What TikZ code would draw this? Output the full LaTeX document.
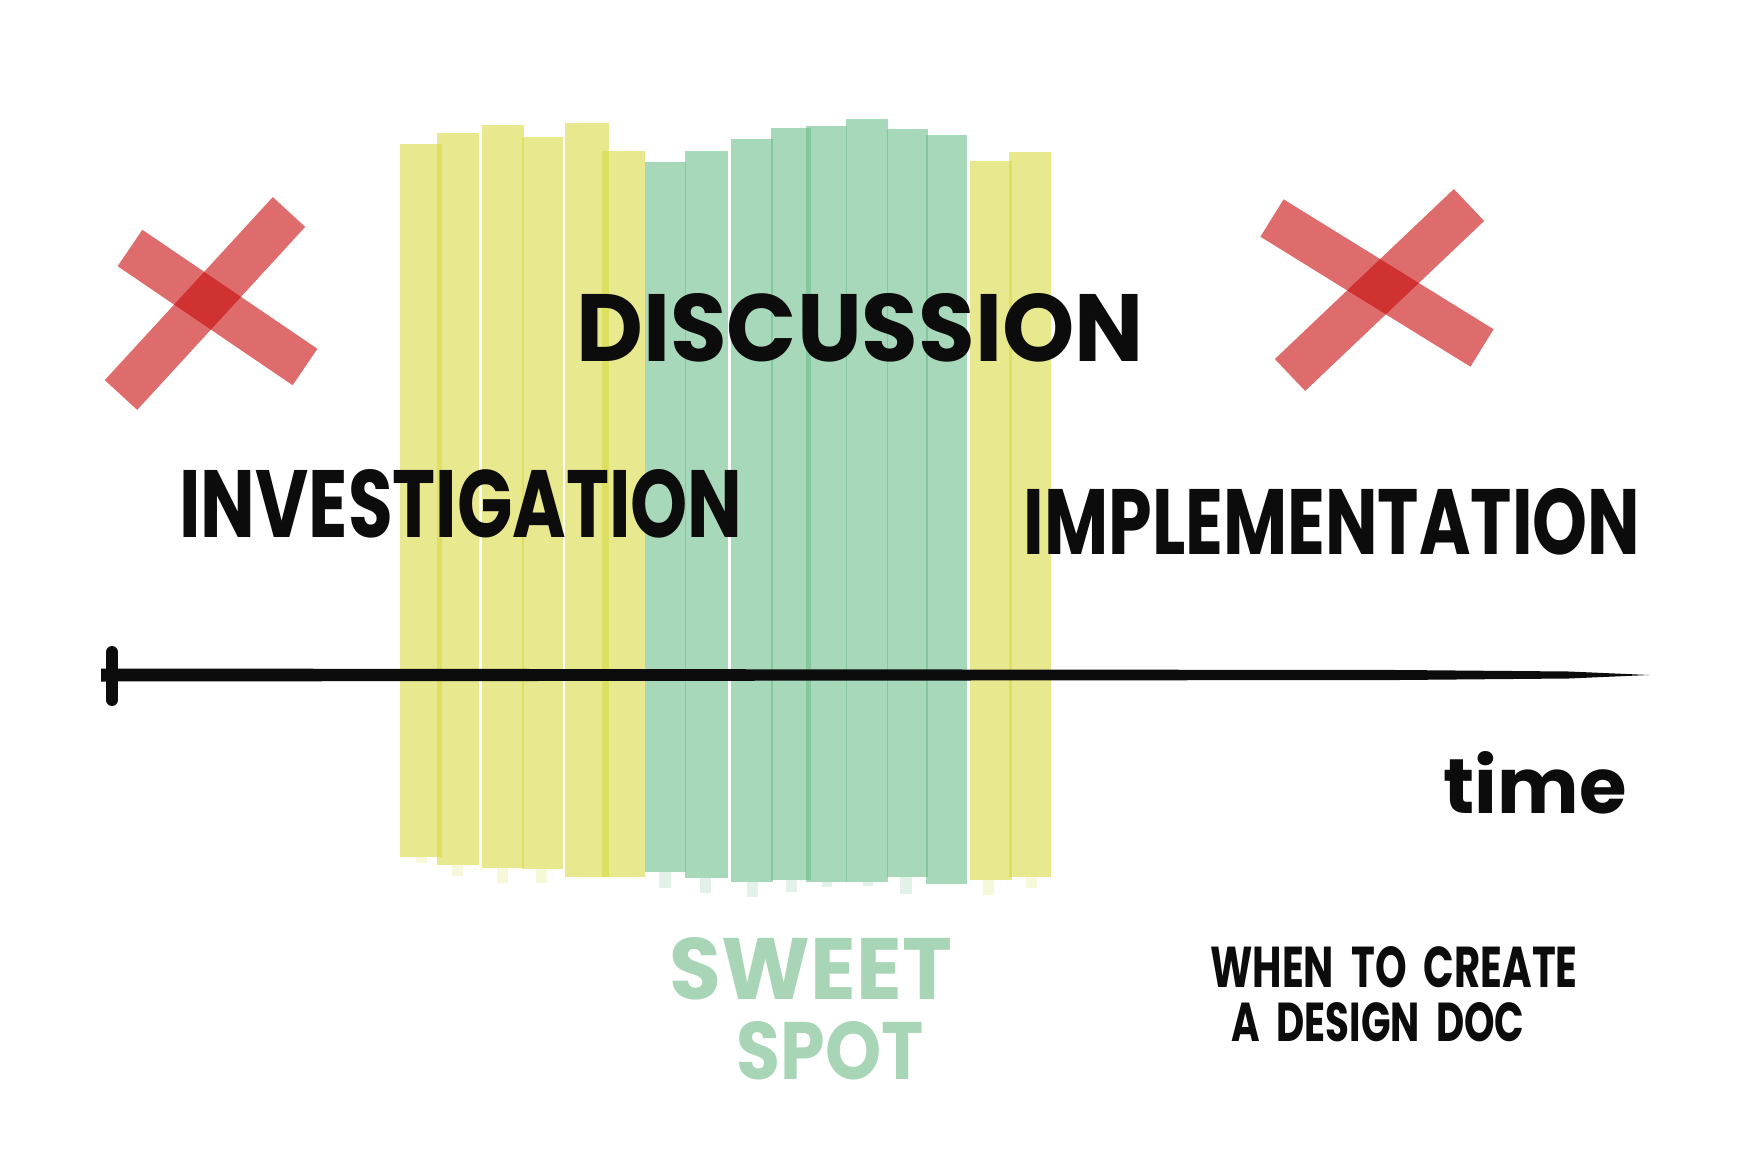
\documentclass[tikz,border=0pt]{standalone}
\usepackage{fontspec}
\setmainfont{Poppins}
\usepackage{graphicx}
\usetikzlibrary{calc}
\definecolor{ybar}{RGB}{218,218,68}
\definecolor{gbar}{RGB}{110,190,140}
\definecolor{xred}{RGB}{200,10,10}
\definecolor{sweet}{RGB}{168,213,181}
\definecolor{ink}{RGB}{12,12,12}
\tikzset{
  ybarstyle/.style={fill=ybar,fill opacity=0.6,draw=none},
  gbarstyle/.style={fill=gbar,fill opacity=0.6,draw=none},
  ytab/.style={fill=ybar,fill opacity=0.2,draw=none},
  gtab/.style={fill=gbar,fill opacity=0.2,draw=none},
  xstroke/.style={draw=xred,line width=44pt,draw opacity=0.6,line cap=butt},
  hand/.style={inner sep=0pt,outer sep=0pt,text=ink,anchor=center,font=\bfseries},
  sweetlabel/.style={inner sep=0pt,outer sep=0pt,text=sweet,anchor=center,font=\bfseries},
}
\begin{document}
\begin{tikzpicture}[x=1pt,y=-1pt]
\fill[white] (0,0) rectangle (1761,1166);
\useasboundingbox (0,0) rectangle (1761,1166);
% tabs below bars
\foreach \a/\b/\t/\u in {416/427/857/863,452/463/865/876,497/508/868/883,536/547/869/883,983/994/880/895,1026/1037/877/888}
  \fill[ytab] (\a,\t) rectangle (\b,\u);
\foreach \a/\b/\t/\u in {659/671/872/888,700/711/878/893,747/758/882/897,786/797/880/892,822/832/882/887,863/873/882/886,900/912/877/894}
  \fill[gtab] (\a,\t) rectangle (\b,\u);
% yellow bars
\foreach \a/\b/\t/\u in {400/442/144/857,437/479/133/865,482/524/125/868,522/563/137/869,565/609/123/877,602/645/151/877,970/1012/161/880,1009/1051/152/877}
  \fill[ybarstyle] (\a,\t) rectangle (\b,\u);
% green bars
\foreach \a/\b/\t/\u in {645/686/162/872,685/728/151/878,731/773/139/882,771/811/128/880,806/847/126/882,846/888/119/882,887/928/129/877,926/967/135/884}
  \fill[gbarstyle] (\a,\t) rectangle (\b,\u);
% red crosses
\draw[xstroke] (130,248) -- (305,367);
\draw[xstroke] (289,212) -- (121,395);
\draw[xstroke] (1272,218) -- (1482,348);
\draw[xstroke] (1469,205) -- (1290,375);
% time axis
\coordinate (axisL) at (101,675);
\coordinate (axisR) at (1649,675);
\coordinate (tickT) at (112,652);
\coordinate (tickB) at (112,700);
\fill[ink] ($(axisL)+(0,-6.5)$) -- ($(axisR)+(-250,-5)$) -- ($(axisR)+(-80,-3.5)$) -- (axisR) -- ($(axisR)+(-80,3.5)$) -- ($(axisR)+(-250,5)$) -- ($(axisL)+(0,6.5)$) -- cycle;
\draw[ink,line width=12pt,line cap=round] (tickT) -- (tickB);
% labels
\node[hand] (discussion) at (860,328) {\resizebox{567pt}{68pt}{DISCUSSION}};
\node[hand] (investigation) at (461,504) {\resizebox{563pt}{68pt}{INVESTIGATION}};
\node[hand] (implementation) at (1332,522) {\resizebox{616pt}{66pt}{IMPLEMENTATION}};
\node[hand] (time) at (1535,783) {\resizebox{183pt}{62pt}{time}};
\node[sweetlabel] (sweet) at (811,969) {\resizebox{282pt}{62pt}{SWEET}};
\node[sweetlabel] (spot) at (830,1051) {\resizebox{187pt}{58pt}{SPOT}};
\node[hand] (when) at (1394,967) {\resizebox{367pt}{41pt}{WHEN\ \ TO\ \ CREATE}};
\node[hand] (doc) at (1378,1022) {\resizebox{293pt}{39pt}{A\ \ DESIGN\ \ DOC}};
\end{tikzpicture}
\end{document}
